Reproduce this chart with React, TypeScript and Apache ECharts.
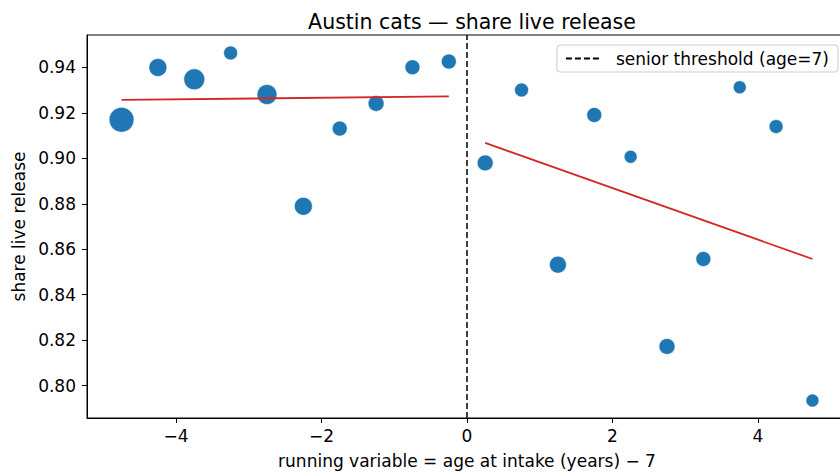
import React, { useEffect, useRef } from "react";
import * as echarts from "echarts";

// running variable = age at intake (years) - 7
const runningVar = [-4.75, -4.25, -3.75, -3.25, -2.75, -2.25, -1.75, -1.25, -0.75, -0.25,
  0.25, 0.75, 1.25, 1.75, 2.25, 2.75, 3.25, 3.75, 4.25, 4.75];
const shareLive = [0.917, 0.940, 0.9348, 0.9464, 0.9281, 0.8789, 0.9131, 0.9242, 0.9401, 0.9426,
  0.898, 0.9301, 0.8532, 0.9191, 0.9007, 0.8172, 0.8557, 0.9313, 0.914, 0.7934];
// estimated number of intakes per bin (marker area)
const intakes = [625, 324, 441, 196, 400, 324, 225, 256, 225, 225,
  256, 196, 289, 225, 169, 256, 225, 169, 196, 169];

const leftFit = [[-4.75, 0.9257], [-0.25, 0.9273]];
const rightFit = [[0.25, 0.9068], [4.75, 0.8557]];

const xTicks = [-4, -2, 0, 2, 4];
const yTicks = [0.80, 0.82, 0.84, 0.86, 0.88, 0.90, 0.92, 0.94];
const X_MIN = -5.225, X_MAX = 5.225;
const Y_MIN = 0.7857, Y_MAX = 0.9543;
const THRESHOLD = 0;

const FONT = "DejaVu Sans";
const FS = 17;

export default function App() {
  const ref = useRef<HTMLDivElement>(null);
  useEffect(() => {
    if (!ref.current) return;
    const chart = echarts.init(ref.current, undefined, { renderer: "svg" });
    const scatterData = runningVar.map((x, i) => [x, shareLive[i], intakes[i]]);
    chart.setOption({
      animation: false,
      textStyle: { fontFamily: FONT },
      title: {
        text: "Austin cats — share live release",
        left: 467,
        top: 6,
        textAlign: "center",
        textStyle: { fontFamily: FONT, fontSize: 20.5, fontWeight: "normal", color: "#000" },
      },
      legend: {
        data: ["senior threshold (age=7)"],
        right: 9,
        top: 45,
        padding: [5, 9, 5, 8],
        backgroundColor: "#fff",
        borderColor: "#cccccc",
        borderWidth: 1,
        borderRadius: 3,
        itemWidth: 34,
        itemHeight: 10,
        itemStyle: { opacity: 0 },
        textStyle: { fontFamily: FONT, fontSize: FS, color: "#000", padding: [0, 0, 0, 11] },
      },
      grid: { left: 87, top: 35, right: 0, bottom: 58, show: true, borderColor: "#000", borderWidth: 1 },
      xAxis: {
        type: "value",
        min: X_MIN,
        max: X_MAX,
        name: "running variable = age at intake (years) − 7",
        nameLocation: "middle",
        nameGap: 34,
        nameTextStyle: { fontFamily: FONT, fontSize: FS, color: "#000" },
        axisLine: { onZero: false, lineStyle: { color: "#000", width: 1 } },
        axisTick: { show: true, length: 5, lineStyle: { color: "#000" }, customValues: xTicks },
        axisLabel: {
          customValues: xTicks,
          margin: 9,
          fontFamily: FONT,
          fontSize: FS,
          color: "#000",
          formatter: (v: number) => String(v).replace("-", "−"),
        },
        splitLine: { show: false },
      },
      yAxis: {
        type: "value",
        min: Y_MIN,
        max: Y_MAX,
        name: "share live release",
        nameLocation: "middle",
        nameGap: 57,
        nameTextStyle: { fontFamily: FONT, fontSize: FS, color: "#000" },
        axisLine: { show: true, onZero: false, lineStyle: { color: "#000", width: 1 } },
        axisTick: { show: true, length: 5, lineStyle: { color: "#000" }, customValues: yTicks },
        axisLabel: {
          customValues: yTicks,
          margin: 11,
          fontFamily: FONT,
          fontSize: FS,
          color: "#000",
          formatter: (v: number) => v.toFixed(2),
        },
        splitLine: { show: false },
      },
      series: [
        {
          type: "scatter",
          name: "bins",
          data: scatterData,
          symbolSize: (v: number[]) => Math.sqrt(v[2]),
          itemStyle: { color: "#1f77b4", opacity: 1, borderColor: "#ffffff", borderWidth: 0.6 },
          z: 3,
        },
        {
          type: "line",
          name: "left fit",
          data: leftFit,
          symbol: "none",
          lineStyle: { color: "#d62728", width: 1.8 },
          z: 4,
        },
        {
          type: "line",
          name: "right fit",
          data: rightFit,
          symbol: "none",
          lineStyle: { color: "#d62728", width: 1.8 },
          z: 4,
        },
        {
          type: "line",
          name: "senior threshold (age=7)",
          data: [[THRESHOLD, Y_MIN], [THRESHOLD, Y_MAX]],
          symbol: "none",
          itemStyle: { color: "#000" },
          lineStyle: { color: "#000", width: 1.5, type: [6, 3] },
          z: 2,
        },
      ],
    });
    return () => chart.dispose();
  }, []);
  return (
    <div style={{ position: "absolute", left: 0, top: 0, width: 840, height: 476, overflow: "hidden" }}>
      <div ref={ref} style={{ width: 847, height: 476 }} />
    </div>
  );
}
